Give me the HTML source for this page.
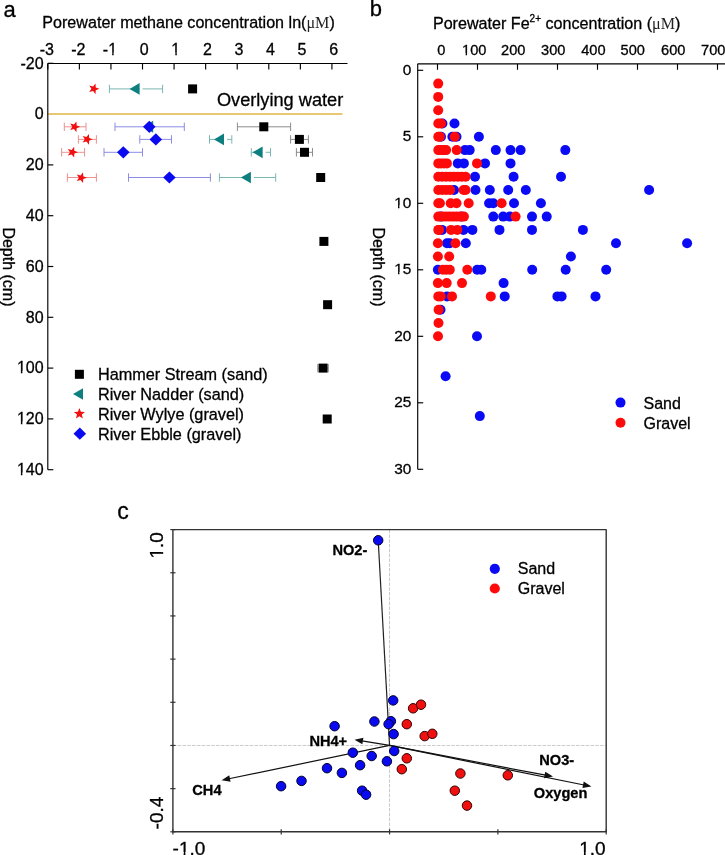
<!DOCTYPE html>
<html><head><meta charset="utf-8"><title>Figure</title>
<style>html,body{margin:0;padding:0;background:#fff;overflow:hidden;}svg{display:block;will-change:transform;}text{fill:#000;stroke:#000;stroke-width:0.3px;}</style>
</head><body>
<svg width="725" height="855" viewBox="0 0 725 855"><g id="panelA">
<text x="3.50" y="16.70" font-size="22" text-anchor="start" font-weight="normal" font-family="Liberation Sans" >a</text>
<text x="42.3" y="28.3" font-size="16.12" font-family="Liberation Sans">Porewater methane concentration ln(<tspan font-family="Liberation Serif" style="stroke-width:0" fill="#222">&#956;M</tspan>)</text>
<line x1="47.8" y1="63.5" x2="347.5" y2="63.5" stroke="#000" stroke-width="1.15"/>
<line x1="47.8" y1="63.5" x2="47.8" y2="469.70" stroke="#000" stroke-width="1.15"/>
<line x1="47.80" y1="63.5" x2="47.80" y2="69.5" stroke="#000" stroke-width="1.15"/>
<text x="45.05" y="54.80" font-size="16" text-anchor="start" font-weight="normal" font-family="Liberation Sans" >3</text>

<text x="45.05" y="54.80" font-size="16" text-anchor="end" font-weight="normal" font-family="Liberation Sans" >-</text>
<line x1="79.37" y1="63.5" x2="79.37" y2="69.5" stroke="#000" stroke-width="1.15"/>
<text x="76.62" y="54.80" font-size="16" text-anchor="start" font-weight="normal" font-family="Liberation Sans" >2</text>

<text x="76.62" y="54.80" font-size="16" text-anchor="end" font-weight="normal" font-family="Liberation Sans" >-</text>
<line x1="110.94" y1="63.5" x2="110.94" y2="69.5" stroke="#000" stroke-width="1.15"/>
<text x="108.19" y="54.80" font-size="16" text-anchor="start" font-weight="normal" font-family="Liberation Sans" >1</text>
<rect x="108.21" y="52.50" width="3.95" height="3.60" fill="#fff"/><rect x="113.68" y="52.50" width="3.58" height="3.60" fill="#fff"/>
<text x="108.19" y="54.80" font-size="16" text-anchor="end" font-weight="normal" font-family="Liberation Sans" >-</text>
<line x1="142.51" y1="63.5" x2="142.51" y2="69.5" stroke="#000" stroke-width="1.15"/>
<text x="139.76" y="54.80" font-size="16" text-anchor="start" font-weight="normal" font-family="Liberation Sans" >0</text>

<line x1="174.08" y1="63.5" x2="174.08" y2="69.5" stroke="#000" stroke-width="1.15"/>
<text x="171.33" y="54.80" font-size="16" text-anchor="start" font-weight="normal" font-family="Liberation Sans" >1</text>
<rect x="171.35" y="52.50" width="3.95" height="3.60" fill="#fff"/><rect x="176.82" y="52.50" width="3.58" height="3.60" fill="#fff"/>
<line x1="205.65" y1="63.5" x2="205.65" y2="69.5" stroke="#000" stroke-width="1.15"/>
<text x="202.90" y="54.80" font-size="16" text-anchor="start" font-weight="normal" font-family="Liberation Sans" >2</text>

<line x1="237.22" y1="63.5" x2="237.22" y2="69.5" stroke="#000" stroke-width="1.15"/>
<text x="234.47" y="54.80" font-size="16" text-anchor="start" font-weight="normal" font-family="Liberation Sans" >3</text>

<line x1="268.79" y1="63.5" x2="268.79" y2="69.5" stroke="#000" stroke-width="1.15"/>
<text x="266.04" y="54.80" font-size="16" text-anchor="start" font-weight="normal" font-family="Liberation Sans" >4</text>

<line x1="300.36" y1="63.5" x2="300.36" y2="69.5" stroke="#000" stroke-width="1.15"/>
<text x="297.61" y="54.80" font-size="16" text-anchor="start" font-weight="normal" font-family="Liberation Sans" >5</text>

<line x1="331.93" y1="63.5" x2="331.93" y2="69.5" stroke="#000" stroke-width="1.15"/>
<text x="329.18" y="54.80" font-size="16" text-anchor="start" font-weight="normal" font-family="Liberation Sans" >6</text>

<line x1="47.8" y1="63.30" x2="53.3" y2="63.30" stroke="#000" stroke-width="1.15"/>
<text x="43.60" y="68.50" font-size="16" text-anchor="end" font-weight="normal" font-family="Liberation Sans" >-20</text>
<line x1="47.8" y1="114.10" x2="53.3" y2="114.10" stroke="#000" stroke-width="1.15"/>
<text x="43.60" y="119.30" font-size="16" text-anchor="end" font-weight="normal" font-family="Liberation Sans" >0</text>

<line x1="47.8" y1="164.90" x2="53.3" y2="164.90" stroke="#000" stroke-width="1.15"/>
<text x="43.60" y="170.10" font-size="16" text-anchor="end" font-weight="normal" font-family="Liberation Sans" >20</text>

<line x1="47.8" y1="215.70" x2="53.3" y2="215.70" stroke="#000" stroke-width="1.15"/>
<text x="43.60" y="220.90" font-size="16" text-anchor="end" font-weight="normal" font-family="Liberation Sans" >40</text>

<line x1="47.8" y1="266.50" x2="53.3" y2="266.50" stroke="#000" stroke-width="1.15"/>
<text x="43.60" y="271.70" font-size="16" text-anchor="end" font-weight="normal" font-family="Liberation Sans" >60</text>

<line x1="47.8" y1="317.30" x2="53.3" y2="317.30" stroke="#000" stroke-width="1.15"/>
<text x="43.60" y="322.50" font-size="16" text-anchor="end" font-weight="normal" font-family="Liberation Sans" >80</text>

<line x1="47.8" y1="368.10" x2="53.3" y2="368.10" stroke="#000" stroke-width="1.15"/>
<text x="43.60" y="373.30" font-size="16" text-anchor="end" font-weight="normal" font-family="Liberation Sans" >100</text>
<rect x="16.92" y="371.00" width="3.95" height="3.60" fill="#fff"/><rect x="22.39" y="371.00" width="3.58" height="3.60" fill="#fff"/>
<line x1="47.8" y1="418.90" x2="53.3" y2="418.90" stroke="#000" stroke-width="1.15"/>
<text x="43.60" y="424.10" font-size="16" text-anchor="end" font-weight="normal" font-family="Liberation Sans" >120</text>
<rect x="16.92" y="421.80" width="3.95" height="3.60" fill="#fff"/><rect x="22.39" y="421.80" width="3.58" height="3.60" fill="#fff"/>
<line x1="47.8" y1="469.70" x2="53.3" y2="469.70" stroke="#000" stroke-width="1.15"/>
<text x="43.60" y="474.90" font-size="16" text-anchor="end" font-weight="normal" font-family="Liberation Sans" >140</text>
<rect x="16.92" y="472.60" width="3.95" height="3.60" fill="#fff"/><rect x="22.39" y="472.60" width="3.58" height="3.60" fill="#fff"/>
<text transform="translate(3.4,227.4) rotate(90)" font-size="16" font-family="Liberation Sans">Depth (cm)</text>
<line x1="48.5" y1="114.1" x2="342.5" y2="114.1" stroke="#E6C873" stroke-width="2"/>
<text x="216.90" y="105.70" font-size="18.2" text-anchor="start" font-weight="normal" font-family="Liberation Sans" >Overlying water</text>
<line x1="109.40" y1="88.90" x2="162.60" y2="88.90" stroke="#78B8B4" stroke-width="1"/><line x1="109.40" y1="84.70" x2="109.40" y2="93.10" stroke="#78B8B4" stroke-width="1"/><line x1="162.60" y1="84.70" x2="162.60" y2="93.10" stroke="#78B8B4" stroke-width="1"/>
<line x1="64.30" y1="126.80" x2="86.00" y2="126.80" stroke="#EE9090" stroke-width="1"/><line x1="64.30" y1="122.60" x2="64.30" y2="131.00" stroke="#EE9090" stroke-width="1"/><line x1="86.00" y1="122.60" x2="86.00" y2="131.00" stroke="#EE9090" stroke-width="1"/>
<line x1="115.00" y1="126.80" x2="184.30" y2="126.80" stroke="#8C8CE4" stroke-width="1"/><line x1="115.00" y1="122.60" x2="115.00" y2="131.00" stroke="#8C8CE4" stroke-width="1"/><line x1="184.30" y1="122.60" x2="184.30" y2="131.00" stroke="#8C8CE4" stroke-width="1"/>
<line x1="237.40" y1="126.80" x2="290.60" y2="126.80" stroke="#8C8C8C" stroke-width="1"/><line x1="237.40" y1="122.60" x2="237.40" y2="131.00" stroke="#8C8C8C" stroke-width="1"/><line x1="290.60" y1="122.60" x2="290.60" y2="131.00" stroke="#8C8C8C" stroke-width="1"/>
<line x1="78.40" y1="139.40" x2="96.40" y2="139.40" stroke="#EE9090" stroke-width="1"/><line x1="78.40" y1="135.20" x2="78.40" y2="143.60" stroke="#EE9090" stroke-width="1"/><line x1="96.40" y1="135.20" x2="96.40" y2="143.60" stroke="#EE9090" stroke-width="1"/>
<line x1="139.80" y1="139.40" x2="171.50" y2="139.40" stroke="#8C8CE4" stroke-width="1"/><line x1="139.80" y1="135.20" x2="139.80" y2="143.60" stroke="#8C8CE4" stroke-width="1"/><line x1="171.50" y1="135.20" x2="171.50" y2="143.60" stroke="#8C8CE4" stroke-width="1"/>
<line x1="209.50" y1="139.40" x2="231.80" y2="139.40" stroke="#78B8B4" stroke-width="1"/><line x1="209.50" y1="135.20" x2="209.50" y2="143.60" stroke="#78B8B4" stroke-width="1"/><line x1="231.80" y1="135.20" x2="231.80" y2="143.60" stroke="#78B8B4" stroke-width="1"/>
<line x1="290.60" y1="139.40" x2="308.40" y2="139.40" stroke="#8C8C8C" stroke-width="1"/><line x1="290.60" y1="135.20" x2="290.60" y2="143.60" stroke="#8C8C8C" stroke-width="1"/><line x1="308.40" y1="135.20" x2="308.40" y2="143.60" stroke="#8C8C8C" stroke-width="1"/>
<line x1="61.60" y1="152.30" x2="84.60" y2="152.30" stroke="#EE9090" stroke-width="1"/><line x1="61.60" y1="148.10" x2="61.60" y2="156.50" stroke="#EE9090" stroke-width="1"/><line x1="84.60" y1="148.10" x2="84.60" y2="156.50" stroke="#EE9090" stroke-width="1"/>
<line x1="104.00" y1="152.30" x2="142.50" y2="152.30" stroke="#8C8CE4" stroke-width="1"/><line x1="104.00" y1="148.10" x2="104.00" y2="156.50" stroke="#8C8CE4" stroke-width="1"/><line x1="142.50" y1="148.10" x2="142.50" y2="156.50" stroke="#8C8CE4" stroke-width="1"/>
<line x1="251.30" y1="152.30" x2="270.50" y2="152.30" stroke="#78B8B4" stroke-width="1"/><line x1="251.30" y1="148.10" x2="251.30" y2="156.50" stroke="#78B8B4" stroke-width="1"/><line x1="270.50" y1="148.10" x2="270.50" y2="156.50" stroke="#78B8B4" stroke-width="1"/>
<line x1="296.40" y1="152.30" x2="312.50" y2="152.30" stroke="#8C8C8C" stroke-width="1"/><line x1="296.40" y1="148.10" x2="296.40" y2="156.50" stroke="#8C8C8C" stroke-width="1"/><line x1="312.50" y1="148.10" x2="312.50" y2="156.50" stroke="#8C8C8C" stroke-width="1"/>
<line x1="67.40" y1="177.50" x2="96.40" y2="177.50" stroke="#EE9090" stroke-width="1"/><line x1="67.40" y1="173.30" x2="67.40" y2="181.70" stroke="#EE9090" stroke-width="1"/><line x1="96.40" y1="173.30" x2="96.40" y2="181.70" stroke="#EE9090" stroke-width="1"/>
<line x1="128.50" y1="177.50" x2="210.40" y2="177.50" stroke="#8C8CE4" stroke-width="1"/><line x1="128.50" y1="173.30" x2="128.50" y2="181.70" stroke="#8C8CE4" stroke-width="1"/><line x1="210.40" y1="173.30" x2="210.40" y2="181.70" stroke="#8C8CE4" stroke-width="1"/>
<line x1="219.40" y1="177.50" x2="275.70" y2="177.50" stroke="#78B8B4" stroke-width="1"/><line x1="219.40" y1="173.30" x2="219.40" y2="181.70" stroke="#78B8B4" stroke-width="1"/><line x1="275.70" y1="173.30" x2="275.70" y2="181.70" stroke="#78B8B4" stroke-width="1"/>
<line x1="317.80" y1="368.10" x2="328.30" y2="368.10" stroke="#8C8C8C" stroke-width="1"/><line x1="317.80" y1="363.90" x2="317.80" y2="372.30" stroke="#8C8C8C" stroke-width="1"/><line x1="328.30" y1="363.90" x2="328.30" y2="372.30" stroke="#8C8C8C" stroke-width="1"/>
<rect x="139.60" y="87.70" width="3" height="2.4" fill="#fff"/>
<rect x="224.00" y="138.20" width="3" height="2.4" fill="#fff"/>
<rect x="262.60" y="151.10" width="3" height="2.4" fill="#fff"/>
<rect x="250.90" y="176.30" width="3" height="2.4" fill="#fff"/>
<polygon points="99.40,88.80 95.74,90.21 95.53,94.13 93.06,91.08 89.27,92.09 91.40,88.80 89.27,85.51 93.06,86.52 95.53,83.47 95.74,87.39" fill="#F01010"/>
<polygon points="129.60,88.90 139.60,83.05 139.60,94.75" fill="#0E7F7F"/>
<rect x="188.10" y="84.40" width="9" height="9" fill="#000"/>
<polygon points="80.30,126.80 76.64,128.21 76.43,132.13 73.96,129.08 70.17,130.09 72.30,126.80 70.17,123.51 73.96,124.52 76.43,121.47 76.64,125.39" fill="#F01010"/>
<polygon points="143.20,126.80 153.20,120.80 153.20,132.80" fill="#0E7F7F"/>
<polygon points="149.30,120.70 155.60,126.80 149.30,132.90 143.00,126.80" fill="#0A0AF0"/>
<rect x="259.30" y="122.30" width="9" height="9" fill="#000"/>
<polygon points="92.80,139.30 89.14,140.71 88.93,144.63 86.46,141.58 82.67,142.59 84.80,139.30 82.67,136.01 86.46,137.02 88.93,133.97 89.14,137.89" fill="#F01010"/>
<polygon points="155.80,133.30 162.10,139.40 155.80,145.50 149.50,139.40" fill="#0A0AF0"/>
<polygon points="214.00,139.40 224.00,133.55 224.00,145.25" fill="#0E7F7F"/>
<rect x="294.90" y="134.90" width="9" height="9" fill="#000"/>
<polygon points="78.00,152.20 74.34,153.61 74.13,157.53 71.66,154.48 67.87,155.49 70.00,152.20 67.87,148.91 71.66,149.92 74.13,146.87 74.34,150.79" fill="#F01010"/>
<polygon points="123.30,146.20 129.60,152.30 123.30,158.40 117.00,152.30" fill="#0A0AF0"/>
<polygon points="252.60,152.30 262.60,146.45 262.60,158.15" fill="#0E7F7F"/>
<rect x="300.00" y="147.80" width="9" height="9" fill="#000"/>
<polygon points="86.90,177.70 83.24,179.11 83.03,183.03 80.56,179.98 76.77,180.99 78.90,177.70 76.77,174.41 80.56,175.42 83.03,172.37 83.24,176.29" fill="#F01010"/>
<polygon points="169.40,171.40 175.70,177.50 169.40,183.60 163.10,177.50" fill="#0A0AF0"/>
<polygon points="240.90,177.50 250.90,171.65 250.90,183.35" fill="#0E7F7F"/>
<rect x="316.20" y="173.00" width="9" height="9" fill="#000"/>
<rect x="319.40" y="236.90" width="9" height="9" fill="#000"/>
<rect x="323.10" y="300.20" width="9" height="9" fill="#000"/>
<rect x="318.60" y="363.60" width="9" height="9" fill="#000"/>
<rect x="322.70" y="414.50" width="9" height="9" fill="#000"/>
<rect x="74.90" y="369.80" width="9" height="9" fill="#000"/>
<polygon points="73.00,394.00 83.00,388.15 83.00,399.85" fill="#0E7F7F"/>
<polygon points="79.40,407.90 80.87,411.78 85.01,411.98 81.78,414.57 82.87,418.57 79.40,416.30 75.93,418.57 77.02,414.57 73.79,411.98 77.93,411.78" fill="#F01010"/>
<polygon points="79.80,427.60 86.10,433.70 79.80,439.80 73.50,433.70" fill="#0A0AF0"/>
<text x="97.90" y="379.50" font-size="16.25" text-anchor="start" font-weight="normal" font-family="Liberation Sans" >Hammer Stream (sand)</text>
<text x="97.90" y="399.50" font-size="16.25" text-anchor="start" font-weight="normal" font-family="Liberation Sans" >River Nadder (sand)</text>
<text x="97.90" y="419.50" font-size="16.25" text-anchor="start" font-weight="normal" font-family="Liberation Sans" >River Wylye (gravel)</text>
<text x="97.90" y="439.50" font-size="16.25" text-anchor="start" font-weight="normal" font-family="Liberation Sans" >River Ebble (gravel)</text>
</g>
<g id="panelB">
<text x="369.70" y="15.70" font-size="22" text-anchor="start" font-weight="normal" font-family="Liberation Sans" >b</text>
<text x="432.9" y="28.7" font-size="16.12" font-family="Liberation Sans">Porewater Fe<tspan font-size="10" dy="-7">2+</tspan><tspan dy="7"> concentration (</tspan><tspan font-family="Liberation Serif" style="stroke-width:0" fill="#222">&#956;M</tspan>)</text>
<line x1="417.7" y1="63.8" x2="725" y2="63.8" stroke="#000" stroke-width="1.15"/>
<line x1="417.7" y1="63.8" x2="417.7" y2="469.30" stroke="#000" stroke-width="1.15"/>
<line x1="437.50" y1="63.8" x2="437.50" y2="69.8" stroke="#000" stroke-width="1.15"/>
<text x="441.20" y="55.30" font-size="14.6" text-anchor="middle" font-weight="normal" font-family="Liberation Sans" >0</text>

<line x1="477.50" y1="63.8" x2="477.50" y2="69.8" stroke="#000" stroke-width="1.15"/>
<text x="474.20" y="55.30" font-size="14.6" text-anchor="middle" font-weight="normal" font-family="Liberation Sans" >100</text>
<rect x="461.93" y="53.11" width="3.71" height="3.49" fill="#fff"/><rect x="467.03" y="53.11" width="3.35" height="3.49" fill="#fff"/>
<line x1="517.50" y1="63.8" x2="517.50" y2="69.8" stroke="#000" stroke-width="1.15"/>
<text x="513.30" y="55.30" font-size="14.6" text-anchor="middle" font-weight="normal" font-family="Liberation Sans" >200</text>

<line x1="557.50" y1="63.8" x2="557.50" y2="69.8" stroke="#000" stroke-width="1.15"/>
<text x="553.30" y="55.30" font-size="14.6" text-anchor="middle" font-weight="normal" font-family="Liberation Sans" >300</text>

<line x1="597.50" y1="63.8" x2="597.50" y2="69.8" stroke="#000" stroke-width="1.15"/>
<text x="593.40" y="55.30" font-size="14.6" text-anchor="middle" font-weight="normal" font-family="Liberation Sans" >400</text>

<line x1="637.50" y1="63.8" x2="637.50" y2="69.8" stroke="#000" stroke-width="1.15"/>
<text x="632.70" y="55.30" font-size="14.6" text-anchor="middle" font-weight="normal" font-family="Liberation Sans" >500</text>

<line x1="677.50" y1="63.8" x2="677.50" y2="69.8" stroke="#000" stroke-width="1.15"/>
<text x="673.30" y="55.30" font-size="14.6" text-anchor="middle" font-weight="normal" font-family="Liberation Sans" >600</text>

<line x1="717.50" y1="63.8" x2="717.50" y2="69.8" stroke="#000" stroke-width="1.15"/>
<text x="713.30" y="55.30" font-size="14.6" text-anchor="middle" font-weight="normal" font-family="Liberation Sans" >700</text>

<line x1="417.7" y1="70.30" x2="423.2" y2="70.30" stroke="#000" stroke-width="1.15"/>
<text x="411.30" y="74.80" font-size="15.4" text-anchor="end" font-weight="normal" font-family="Liberation Sans" >0</text>

<line x1="417.7" y1="136.80" x2="423.2" y2="136.80" stroke="#000" stroke-width="1.15"/>
<text x="411.30" y="141.30" font-size="15.4" text-anchor="end" font-weight="normal" font-family="Liberation Sans" >5</text>

<line x1="417.7" y1="203.30" x2="423.2" y2="203.30" stroke="#000" stroke-width="1.15"/>
<text x="411.30" y="207.80" font-size="15.4" text-anchor="end" font-weight="normal" font-family="Liberation Sans" >10</text>
<rect x="394.14" y="205.55" width="3.85" height="3.55" fill="#fff"/><rect x="399.45" y="205.55" width="3.48" height="3.55" fill="#fff"/>
<line x1="417.7" y1="269.80" x2="423.2" y2="269.80" stroke="#000" stroke-width="1.15"/>
<text x="411.30" y="274.30" font-size="15.4" text-anchor="end" font-weight="normal" font-family="Liberation Sans" >15</text>
<rect x="394.14" y="272.05" width="3.85" height="3.55" fill="#fff"/><rect x="399.45" y="272.05" width="3.48" height="3.55" fill="#fff"/>
<line x1="417.7" y1="336.30" x2="423.2" y2="336.30" stroke="#000" stroke-width="1.15"/>
<text x="411.30" y="340.80" font-size="15.4" text-anchor="end" font-weight="normal" font-family="Liberation Sans" >20</text>

<line x1="417.7" y1="402.80" x2="423.2" y2="402.80" stroke="#000" stroke-width="1.15"/>
<text x="411.30" y="407.30" font-size="15.4" text-anchor="end" font-weight="normal" font-family="Liberation Sans" >25</text>

<line x1="417.7" y1="469.30" x2="423.2" y2="469.30" stroke="#000" stroke-width="1.15"/>
<text x="411.30" y="473.80" font-size="15.4" text-anchor="end" font-weight="normal" font-family="Liberation Sans" >30</text>

<text transform="translate(373.1,227.4) rotate(90)" font-size="16" font-family="Liberation Sans">Depth (cm)</text>
<circle cx="442.40" cy="123.50" r="5.0" fill="#0A0AF5" stroke="#0A0AF5" stroke-width="0"/>
<circle cx="454.50" cy="123.50" r="5.0" fill="#0A0AF5" stroke="#0A0AF5" stroke-width="0"/>
<circle cx="441.00" cy="136.80" r="5.0" fill="#0A0AF5" stroke="#0A0AF5" stroke-width="0"/>
<circle cx="452.40" cy="136.80" r="5.0" fill="#0A0AF5" stroke="#0A0AF5" stroke-width="0"/>
<circle cx="456.50" cy="136.80" r="5.0" fill="#0A0AF5" stroke="#0A0AF5" stroke-width="0"/>
<circle cx="478.90" cy="136.80" r="5.0" fill="#0A0AF5" stroke="#0A0AF5" stroke-width="0"/>
<circle cx="465.00" cy="150.10" r="5.0" fill="#0A0AF5" stroke="#0A0AF5" stroke-width="0"/>
<circle cx="469.70" cy="150.10" r="5.0" fill="#0A0AF5" stroke="#0A0AF5" stroke-width="0"/>
<circle cx="495.80" cy="150.10" r="5.0" fill="#0A0AF5" stroke="#0A0AF5" stroke-width="0"/>
<circle cx="510.50" cy="150.10" r="5.0" fill="#0A0AF5" stroke="#0A0AF5" stroke-width="0"/>
<circle cx="520.60" cy="150.10" r="5.0" fill="#0A0AF5" stroke="#0A0AF5" stroke-width="0"/>
<circle cx="565.30" cy="150.10" r="5.0" fill="#0A0AF5" stroke="#0A0AF5" stroke-width="0"/>
<circle cx="457.80" cy="163.40" r="5.0" fill="#0A0AF5" stroke="#0A0AF5" stroke-width="0"/>
<circle cx="463.90" cy="163.40" r="5.0" fill="#0A0AF5" stroke="#0A0AF5" stroke-width="0"/>
<circle cx="485.00" cy="163.40" r="5.0" fill="#0A0AF5" stroke="#0A0AF5" stroke-width="0"/>
<circle cx="510.50" cy="163.40" r="5.0" fill="#0A0AF5" stroke="#0A0AF5" stroke-width="0"/>
<circle cx="475.00" cy="176.70" r="5.0" fill="#0A0AF5" stroke="#0A0AF5" stroke-width="0"/>
<circle cx="513.60" cy="176.70" r="5.0" fill="#0A0AF5" stroke="#0A0AF5" stroke-width="0"/>
<circle cx="561.00" cy="176.70" r="5.0" fill="#0A0AF5" stroke="#0A0AF5" stroke-width="0"/>
<circle cx="454.00" cy="190.00" r="5.0" fill="#0A0AF5" stroke="#0A0AF5" stroke-width="0"/>
<circle cx="475.50" cy="190.00" r="5.0" fill="#0A0AF5" stroke="#0A0AF5" stroke-width="0"/>
<circle cx="489.80" cy="190.00" r="5.0" fill="#0A0AF5" stroke="#0A0AF5" stroke-width="0"/>
<circle cx="508.20" cy="190.00" r="5.0" fill="#0A0AF5" stroke="#0A0AF5" stroke-width="0"/>
<circle cx="525.80" cy="190.00" r="5.0" fill="#0A0AF5" stroke="#0A0AF5" stroke-width="0"/>
<circle cx="649.10" cy="190.00" r="5.0" fill="#0A0AF5" stroke="#0A0AF5" stroke-width="0"/>
<circle cx="489.10" cy="203.30" r="5.0" fill="#0A0AF5" stroke="#0A0AF5" stroke-width="0"/>
<circle cx="493.30" cy="203.30" r="5.0" fill="#0A0AF5" stroke="#0A0AF5" stroke-width="0"/>
<circle cx="514.00" cy="203.30" r="5.0" fill="#0A0AF5" stroke="#0A0AF5" stroke-width="0"/>
<circle cx="540.90" cy="203.30" r="5.0" fill="#0A0AF5" stroke="#0A0AF5" stroke-width="0"/>
<circle cx="440.80" cy="216.60" r="5.0" fill="#0A0AF5" stroke="#0A0AF5" stroke-width="0"/>
<circle cx="461.50" cy="216.60" r="5.0" fill="#0A0AF5" stroke="#0A0AF5" stroke-width="0"/>
<circle cx="493.30" cy="216.60" r="5.0" fill="#0A0AF5" stroke="#0A0AF5" stroke-width="0"/>
<circle cx="503.20" cy="216.60" r="5.0" fill="#0A0AF5" stroke="#0A0AF5" stroke-width="0"/>
<circle cx="509.80" cy="216.60" r="5.0" fill="#0A0AF5" stroke="#0A0AF5" stroke-width="0"/>
<circle cx="532.00" cy="216.60" r="5.0" fill="#0A0AF5" stroke="#0A0AF5" stroke-width="0"/>
<circle cx="546.70" cy="216.60" r="5.0" fill="#0A0AF5" stroke="#0A0AF5" stroke-width="0"/>
<circle cx="442.00" cy="229.90" r="5.0" fill="#0A0AF5" stroke="#0A0AF5" stroke-width="0"/>
<circle cx="463.50" cy="229.90" r="5.0" fill="#0A0AF5" stroke="#0A0AF5" stroke-width="0"/>
<circle cx="472.40" cy="229.90" r="5.0" fill="#0A0AF5" stroke="#0A0AF5" stroke-width="0"/>
<circle cx="499.50" cy="229.90" r="5.0" fill="#0A0AF5" stroke="#0A0AF5" stroke-width="0"/>
<circle cx="532.00" cy="229.90" r="5.0" fill="#0A0AF5" stroke="#0A0AF5" stroke-width="0"/>
<circle cx="582.90" cy="229.90" r="5.0" fill="#0A0AF5" stroke="#0A0AF5" stroke-width="0"/>
<circle cx="447.00" cy="243.20" r="5.0" fill="#0A0AF5" stroke="#0A0AF5" stroke-width="0"/>
<circle cx="449.80" cy="243.20" r="5.0" fill="#0A0AF5" stroke="#0A0AF5" stroke-width="0"/>
<circle cx="465.80" cy="243.20" r="5.0" fill="#0A0AF5" stroke="#0A0AF5" stroke-width="0"/>
<circle cx="616.00" cy="243.20" r="5.0" fill="#0A0AF5" stroke="#0A0AF5" stroke-width="0"/>
<circle cx="687.10" cy="243.20" r="5.0" fill="#0A0AF5" stroke="#0A0AF5" stroke-width="0"/>
<circle cx="570.90" cy="256.50" r="5.0" fill="#0A0AF5" stroke="#0A0AF5" stroke-width="0"/>
<circle cx="437.90" cy="269.80" r="5.0" fill="#0A0AF5" stroke="#0A0AF5" stroke-width="0"/>
<circle cx="477.20" cy="269.80" r="5.0" fill="#0A0AF5" stroke="#0A0AF5" stroke-width="0"/>
<circle cx="481.30" cy="269.80" r="5.0" fill="#0A0AF5" stroke="#0A0AF5" stroke-width="0"/>
<circle cx="532.20" cy="269.80" r="5.0" fill="#0A0AF5" stroke="#0A0AF5" stroke-width="0"/>
<circle cx="565.70" cy="269.80" r="5.0" fill="#0A0AF5" stroke="#0A0AF5" stroke-width="0"/>
<circle cx="606.20" cy="269.80" r="5.0" fill="#0A0AF5" stroke="#0A0AF5" stroke-width="0"/>
<circle cx="503.60" cy="283.10" r="5.0" fill="#0A0AF5" stroke="#0A0AF5" stroke-width="0"/>
<circle cx="447.00" cy="296.40" r="5.0" fill="#0A0AF5" stroke="#0A0AF5" stroke-width="0"/>
<circle cx="504.70" cy="296.40" r="5.0" fill="#0A0AF5" stroke="#0A0AF5" stroke-width="0"/>
<circle cx="557.40" cy="296.40" r="5.0" fill="#0A0AF5" stroke="#0A0AF5" stroke-width="0"/>
<circle cx="561.60" cy="296.40" r="5.0" fill="#0A0AF5" stroke="#0A0AF5" stroke-width="0"/>
<circle cx="595.50" cy="296.40" r="5.0" fill="#0A0AF5" stroke="#0A0AF5" stroke-width="0"/>
<circle cx="440.50" cy="309.70" r="5.0" fill="#0A0AF5" stroke="#0A0AF5" stroke-width="0"/>
<circle cx="477.00" cy="336.30" r="5.0" fill="#0A0AF5" stroke="#0A0AF5" stroke-width="0"/>
<circle cx="445.60" cy="376.20" r="5.0" fill="#0A0AF5" stroke="#0A0AF5" stroke-width="0"/>
<circle cx="479.80" cy="416.10" r="5.0" fill="#0A0AF5" stroke="#0A0AF5" stroke-width="0"/>
<circle cx="438.20" cy="83.60" r="5.0" fill="#FF0A0A" stroke="#FF0A0A" stroke-width="0"/>
<circle cx="438.20" cy="96.90" r="5.0" fill="#FF0A0A" stroke="#FF0A0A" stroke-width="0"/>
<circle cx="438.20" cy="110.20" r="5.0" fill="#FF0A0A" stroke="#FF0A0A" stroke-width="0"/>
<circle cx="438.30" cy="123.50" r="5.0" fill="#FF0A0A" stroke="#FF0A0A" stroke-width="0"/>
<circle cx="441.10" cy="123.50" r="5.0" fill="#FF0A0A" stroke="#FF0A0A" stroke-width="0"/>
<circle cx="438.30" cy="136.80" r="5.0" fill="#FF0A0A" stroke="#FF0A0A" stroke-width="0"/>
<circle cx="439.90" cy="136.80" r="5.0" fill="#FF0A0A" stroke="#FF0A0A" stroke-width="0"/>
<circle cx="454.70" cy="136.80" r="5.0" fill="#FF0A0A" stroke="#FF0A0A" stroke-width="0"/>
<circle cx="438.30" cy="150.10" r="5.0" fill="#FF0A0A" stroke="#FF0A0A" stroke-width="0"/>
<circle cx="441.00" cy="150.10" r="5.0" fill="#FF0A0A" stroke="#FF0A0A" stroke-width="0"/>
<circle cx="443.50" cy="150.10" r="5.0" fill="#FF0A0A" stroke="#FF0A0A" stroke-width="0"/>
<circle cx="446.10" cy="150.10" r="5.0" fill="#FF0A0A" stroke="#FF0A0A" stroke-width="0"/>
<circle cx="456.70" cy="150.10" r="5.0" fill="#FF0A0A" stroke="#FF0A0A" stroke-width="0"/>
<circle cx="438.30" cy="163.40" r="5.0" fill="#FF0A0A" stroke="#FF0A0A" stroke-width="0"/>
<circle cx="441.00" cy="163.40" r="5.0" fill="#FF0A0A" stroke="#FF0A0A" stroke-width="0"/>
<circle cx="444.00" cy="163.40" r="5.0" fill="#FF0A0A" stroke="#FF0A0A" stroke-width="0"/>
<circle cx="446.90" cy="163.40" r="5.0" fill="#FF0A0A" stroke="#FF0A0A" stroke-width="0"/>
<circle cx="477.00" cy="163.40" r="5.0" fill="#FF0A0A" stroke="#FF0A0A" stroke-width="0"/>
<circle cx="438.30" cy="176.70" r="5.0" fill="#FF0A0A" stroke="#FF0A0A" stroke-width="0"/>
<circle cx="442.20" cy="176.70" r="5.0" fill="#FF0A0A" stroke="#FF0A0A" stroke-width="0"/>
<circle cx="446.10" cy="176.70" r="5.0" fill="#FF0A0A" stroke="#FF0A0A" stroke-width="0"/>
<circle cx="450.00" cy="176.70" r="5.0" fill="#FF0A0A" stroke="#FF0A0A" stroke-width="0"/>
<circle cx="453.90" cy="176.70" r="5.0" fill="#FF0A0A" stroke="#FF0A0A" stroke-width="0"/>
<circle cx="457.80" cy="176.70" r="5.0" fill="#FF0A0A" stroke="#FF0A0A" stroke-width="0"/>
<circle cx="461.70" cy="176.70" r="5.0" fill="#FF0A0A" stroke="#FF0A0A" stroke-width="0"/>
<circle cx="465.60" cy="176.70" r="5.0" fill="#FF0A0A" stroke="#FF0A0A" stroke-width="0"/>
<circle cx="438.30" cy="190.00" r="5.0" fill="#FF0A0A" stroke="#FF0A0A" stroke-width="0"/>
<circle cx="442.30" cy="190.00" r="5.0" fill="#FF0A0A" stroke="#FF0A0A" stroke-width="0"/>
<circle cx="446.30" cy="190.00" r="5.0" fill="#FF0A0A" stroke="#FF0A0A" stroke-width="0"/>
<circle cx="450.20" cy="190.00" r="5.0" fill="#FF0A0A" stroke="#FF0A0A" stroke-width="0"/>
<circle cx="463.60" cy="190.00" r="5.0" fill="#FF0A0A" stroke="#FF0A0A" stroke-width="0"/>
<circle cx="465.60" cy="190.00" r="5.0" fill="#FF0A0A" stroke="#FF0A0A" stroke-width="0"/>
<circle cx="438.30" cy="203.30" r="5.0" fill="#FF0A0A" stroke="#FF0A0A" stroke-width="0"/>
<circle cx="439.90" cy="203.30" r="5.0" fill="#FF0A0A" stroke="#FF0A0A" stroke-width="0"/>
<circle cx="450.70" cy="203.30" r="5.0" fill="#FF0A0A" stroke="#FF0A0A" stroke-width="0"/>
<circle cx="456.50" cy="203.30" r="5.0" fill="#FF0A0A" stroke="#FF0A0A" stroke-width="0"/>
<circle cx="468.70" cy="203.30" r="5.0" fill="#FF0A0A" stroke="#FF0A0A" stroke-width="0"/>
<circle cx="501.60" cy="203.30" r="5.0" fill="#FF0A0A" stroke="#FF0A0A" stroke-width="0"/>
<circle cx="438.30" cy="216.60" r="5.0" fill="#FF0A0A" stroke="#FF0A0A" stroke-width="0"/>
<circle cx="442.00" cy="216.60" r="5.0" fill="#FF0A0A" stroke="#FF0A0A" stroke-width="0"/>
<circle cx="445.70" cy="216.60" r="5.0" fill="#FF0A0A" stroke="#FF0A0A" stroke-width="0"/>
<circle cx="449.40" cy="216.60" r="5.0" fill="#FF0A0A" stroke="#FF0A0A" stroke-width="0"/>
<circle cx="453.10" cy="216.60" r="5.0" fill="#FF0A0A" stroke="#FF0A0A" stroke-width="0"/>
<circle cx="456.80" cy="216.60" r="5.0" fill="#FF0A0A" stroke="#FF0A0A" stroke-width="0"/>
<circle cx="460.40" cy="216.60" r="5.0" fill="#FF0A0A" stroke="#FF0A0A" stroke-width="0"/>
<circle cx="463.90" cy="216.60" r="5.0" fill="#FF0A0A" stroke="#FF0A0A" stroke-width="0"/>
<circle cx="515.60" cy="216.60" r="5.0" fill="#FF0A0A" stroke="#FF0A0A" stroke-width="0"/>
<circle cx="438.30" cy="229.90" r="5.0" fill="#FF0A0A" stroke="#FF0A0A" stroke-width="0"/>
<circle cx="439.10" cy="229.90" r="5.0" fill="#FF0A0A" stroke="#FF0A0A" stroke-width="0"/>
<circle cx="451.10" cy="229.90" r="5.0" fill="#FF0A0A" stroke="#FF0A0A" stroke-width="0"/>
<circle cx="457.30" cy="229.90" r="5.0" fill="#FF0A0A" stroke="#FF0A0A" stroke-width="0"/>
<circle cx="437.90" cy="243.20" r="5.0" fill="#FF0A0A" stroke="#FF0A0A" stroke-width="0"/>
<circle cx="455.50" cy="243.20" r="5.0" fill="#FF0A0A" stroke="#FF0A0A" stroke-width="0"/>
<circle cx="437.90" cy="256.50" r="5.0" fill="#FF0A0A" stroke="#FF0A0A" stroke-width="0"/>
<circle cx="449.20" cy="256.50" r="5.0" fill="#FF0A0A" stroke="#FF0A0A" stroke-width="0"/>
<circle cx="442.90" cy="269.80" r="5.0" fill="#FF0A0A" stroke="#FF0A0A" stroke-width="0"/>
<circle cx="446.30" cy="269.80" r="5.0" fill="#FF0A0A" stroke="#FF0A0A" stroke-width="0"/>
<circle cx="449.80" cy="269.80" r="5.0" fill="#FF0A0A" stroke="#FF0A0A" stroke-width="0"/>
<circle cx="467.30" cy="269.80" r="5.0" fill="#FF0A0A" stroke="#FF0A0A" stroke-width="0"/>
<circle cx="437.90" cy="283.10" r="5.0" fill="#FF0A0A" stroke="#FF0A0A" stroke-width="0"/>
<circle cx="446.70" cy="283.10" r="5.0" fill="#FF0A0A" stroke="#FF0A0A" stroke-width="0"/>
<circle cx="462.00" cy="283.10" r="5.0" fill="#FF0A0A" stroke="#FF0A0A" stroke-width="0"/>
<circle cx="438.30" cy="296.40" r="5.0" fill="#FF0A0A" stroke="#FF0A0A" stroke-width="0"/>
<circle cx="440.70" cy="296.40" r="5.0" fill="#FF0A0A" stroke="#FF0A0A" stroke-width="0"/>
<circle cx="452.00" cy="296.40" r="5.0" fill="#FF0A0A" stroke="#FF0A0A" stroke-width="0"/>
<circle cx="490.80" cy="296.40" r="5.0" fill="#FF0A0A" stroke="#FF0A0A" stroke-width="0"/>
<circle cx="438.60" cy="309.70" r="5.0" fill="#FF0A0A" stroke="#FF0A0A" stroke-width="0"/>
<circle cx="438.50" cy="323.00" r="5.0" fill="#FF0A0A" stroke="#FF0A0A" stroke-width="0"/>
<circle cx="438.00" cy="336.30" r="5.0" fill="#FF0A0A" stroke="#FF0A0A" stroke-width="0"/>
<circle cx="620.50" cy="402.60" r="5.0" fill="#0A0AF5" stroke="#0A0AF5" stroke-width="0"/>
<text x="643.50" y="408.60" font-size="16" text-anchor="start" font-weight="normal" font-family="Liberation Sans" >Sand</text>
<circle cx="620.50" cy="422.80" r="5.0" fill="#FF0A0A" stroke="#FF0A0A" stroke-width="0"/>
<text x="643.50" y="428.80" font-size="16" text-anchor="start" font-weight="normal" font-family="Liberation Sans" >Gravel</text>
</g>
<g id="panelC">
<text x="117.20" y="518.70" font-size="23" text-anchor="start" font-weight="normal" font-family="Liberation Sans" >c</text>
<line x1="172.9" y1="745.46" x2="606.2" y2="745.46" stroke="#C4C4C4" stroke-width="0.9" stroke-dasharray="3.6,1.2"/>
<line x1="389.55" y1="529.6" x2="389.55" y2="831.8" stroke="#C4C4C4" stroke-width="0.9" stroke-dasharray="3.6,1.2"/>
<path d="M172.9,529.6 H606.2 V831.8 H172.9 Z" fill="none" stroke="#333" stroke-width="1.4" stroke-linejoin="round"/>
<line x1="170.3" y1="529.60" x2="175.5" y2="529.60" stroke="#333" stroke-width="1.2"/>
<line x1="170.3" y1="572.77" x2="175.5" y2="572.77" stroke="#333" stroke-width="1.2"/>
<line x1="170.3" y1="615.94" x2="175.5" y2="615.94" stroke="#333" stroke-width="1.2"/>
<line x1="170.3" y1="659.11" x2="175.5" y2="659.11" stroke="#333" stroke-width="1.2"/>
<line x1="170.3" y1="702.29" x2="175.5" y2="702.29" stroke="#333" stroke-width="1.2"/>
<line x1="170.3" y1="745.46" x2="175.5" y2="745.46" stroke="#333" stroke-width="1.2"/>
<line x1="170.3" y1="788.63" x2="175.5" y2="788.63" stroke="#333" stroke-width="1.2"/>
<line x1="170.3" y1="831.80" x2="175.5" y2="831.80" stroke="#333" stroke-width="1.2"/>
<line x1="172.90" y1="834.4" x2="172.90" y2="829.1999999999999" stroke="#333" stroke-width="1.2"/>
<line x1="281.23" y1="834.4" x2="281.23" y2="829.1999999999999" stroke="#333" stroke-width="1.2"/>
<line x1="389.55" y1="834.4" x2="389.55" y2="829.1999999999999" stroke="#333" stroke-width="1.2"/>
<line x1="497.88" y1="834.4" x2="497.88" y2="829.1999999999999" stroke="#333" stroke-width="1.2"/>
<line x1="606.20" y1="834.4" x2="606.20" y2="829.1999999999999" stroke="#333" stroke-width="1.2"/>
<g transform="translate(163.4,558.6) rotate(-90)"><text x="0" y="0" font-size="19" font-family="Liberation Sans">1.0</text><rect x="0.25" y="-2.52" width="4.48" height="3.82" fill="#fff"/><rect x="6.51" y="-2.52" width="4.08" height="3.82" fill="#fff"/></g>
<text transform="translate(162.9,829.4) rotate(-90)" font-size="19" font-family="Liberation Sans">-0.4</text>
<text x="172.60" y="854.50" font-size="19" text-anchor="start" font-weight="normal" font-family="Liberation Sans" >-1.0</text>
<rect x="179.17" y="851.98" width="4.48" height="3.82" fill="#fff"/><rect x="185.43" y="851.98" width="4.08" height="3.82" fill="#fff"/>
<text x="605.60" y="854.50" font-size="19" text-anchor="end" font-weight="normal" font-family="Liberation Sans" >1.0</text>
<rect x="579.43" y="851.98" width="4.48" height="3.82" fill="#fff"/><rect x="585.69" y="851.98" width="4.08" height="3.82" fill="#fff"/>
<line x1="389.55" y1="745.46" x2="378.2" y2="540.3" stroke="#222" stroke-width="1.2"/>
<line x1="389.55" y1="745.46" x2="361.90" y2="740.92" stroke="#111" stroke-width="1.2"/><polygon points="354.50,739.70 363.42,737.82 362.35,744.33" fill="#111"/>
<line x1="389.55" y1="745.46" x2="228.94" y2="778.78" stroke="#111" stroke-width="1.2"/><polygon points="221.60,780.30 229.25,775.34 230.59,781.80" fill="#111"/>
<line x1="389.55" y1="745.46" x2="545.63" y2="775.20" stroke="#111" stroke-width="1.2"/><polygon points="553.00,776.60 544.03,778.25 545.27,771.77" fill="#111"/>
<line x1="389.55" y1="745.46" x2="584.05" y2="785.01" stroke="#111" stroke-width="1.2"/><polygon points="591.40,786.50 582.41,788.04 583.73,781.57" fill="#111"/>
<text x="332.40" y="555.20" font-size="14.6" text-anchor="start" font-weight="bold" font-family="Liberation Sans" >NO2-</text>
<text x="309.40" y="746.20" font-size="14.6" text-anchor="start" font-weight="bold" font-family="Liberation Sans" >NH4+</text>
<text x="192.30" y="795.00" font-size="14.6" text-anchor="start" font-weight="bold" font-family="Liberation Sans" >CH4</text>
<text x="539.30" y="765.20" font-size="14.6" text-anchor="start" font-weight="bold" font-family="Liberation Sans" >NO3-</text>
<text x="533.80" y="798.20" font-size="14.6" text-anchor="start" font-weight="bold" font-family="Liberation Sans" >Oxygen</text>
<circle cx="393.20" cy="700.40" r="4.75" fill="#0A0AF0" stroke="#000030" stroke-width="1"/>
<circle cx="334.60" cy="726.20" r="4.75" fill="#0A0AF0" stroke="#000030" stroke-width="1"/>
<circle cx="374.40" cy="721.50" r="4.75" fill="#0A0AF0" stroke="#000030" stroke-width="1"/>
<circle cx="390.90" cy="721.20" r="4.75" fill="#0A0AF0" stroke="#000030" stroke-width="1"/>
<circle cx="388.60" cy="724.20" r="4.75" fill="#0A0AF0" stroke="#000030" stroke-width="1"/>
<circle cx="393.60" cy="734.10" r="4.75" fill="#0A0AF0" stroke="#000030" stroke-width="1"/>
<circle cx="352.80" cy="752.70" r="4.75" fill="#0A0AF0" stroke="#000030" stroke-width="1"/>
<circle cx="371.70" cy="756.00" r="4.75" fill="#0A0AF0" stroke="#000030" stroke-width="1"/>
<circle cx="394.20" cy="751.00" r="4.75" fill="#0A0AF0" stroke="#000030" stroke-width="1"/>
<circle cx="386.90" cy="761.30" r="4.75" fill="#0A0AF0" stroke="#000030" stroke-width="1"/>
<circle cx="360.10" cy="765.20" r="4.75" fill="#0A0AF0" stroke="#000030" stroke-width="1"/>
<circle cx="327.00" cy="768.20" r="4.75" fill="#0A0AF0" stroke="#000030" stroke-width="1"/>
<circle cx="341.90" cy="772.90" r="4.75" fill="#0A0AF0" stroke="#000030" stroke-width="1"/>
<circle cx="301.50" cy="780.90" r="4.75" fill="#0A0AF0" stroke="#000030" stroke-width="1"/>
<circle cx="281.10" cy="786.20" r="4.75" fill="#0A0AF0" stroke="#000030" stroke-width="1"/>
<circle cx="362.10" cy="790.70" r="4.75" fill="#0A0AF0" stroke="#000030" stroke-width="1"/>
<circle cx="366.10" cy="794.70" r="4.75" fill="#0A0AF0" stroke="#000030" stroke-width="1"/>
<circle cx="378.20" cy="540.30" r="4.75" fill="#0A0AF0" stroke="#000030" stroke-width="1"/>
<circle cx="413.10" cy="708.30" r="4.75" fill="#F01010" stroke="#300000" stroke-width="1"/>
<circle cx="421.00" cy="704.70" r="4.75" fill="#F01010" stroke="#300000" stroke-width="1"/>
<circle cx="406.80" cy="724.20" r="4.75" fill="#F01010" stroke="#300000" stroke-width="1"/>
<circle cx="424.70" cy="736.10" r="4.75" fill="#F01010" stroke="#300000" stroke-width="1"/>
<circle cx="432.30" cy="733.80" r="4.75" fill="#F01010" stroke="#300000" stroke-width="1"/>
<circle cx="406.80" cy="758.30" r="4.75" fill="#F01010" stroke="#300000" stroke-width="1"/>
<circle cx="401.80" cy="769.20" r="4.75" fill="#F01010" stroke="#300000" stroke-width="1"/>
<circle cx="460.40" cy="773.50" r="4.75" fill="#F01010" stroke="#300000" stroke-width="1"/>
<circle cx="454.80" cy="790.70" r="4.75" fill="#F01010" stroke="#300000" stroke-width="1"/>
<circle cx="467.00" cy="805.60" r="4.75" fill="#F01010" stroke="#300000" stroke-width="1"/>
<circle cx="507.80" cy="775.30" r="4.75" fill="#F01010" stroke="#300000" stroke-width="1"/>
<circle cx="494.80" cy="568.80" r="5.1" fill="#0A0AF5" stroke="#0A0AF5" stroke-width="0"/>
<text x="517.80" y="573.90" font-size="16" text-anchor="start" font-weight="normal" font-family="Liberation Sans" >Sand</text>
<circle cx="494.80" cy="588.50" r="5.1" fill="#FF0A0A" stroke="#FF0A0A" stroke-width="0"/>
<text x="517.80" y="593.80" font-size="16" text-anchor="start" font-weight="normal" font-family="Liberation Sans" >Gravel</text>
</g></svg>
</body></html>
